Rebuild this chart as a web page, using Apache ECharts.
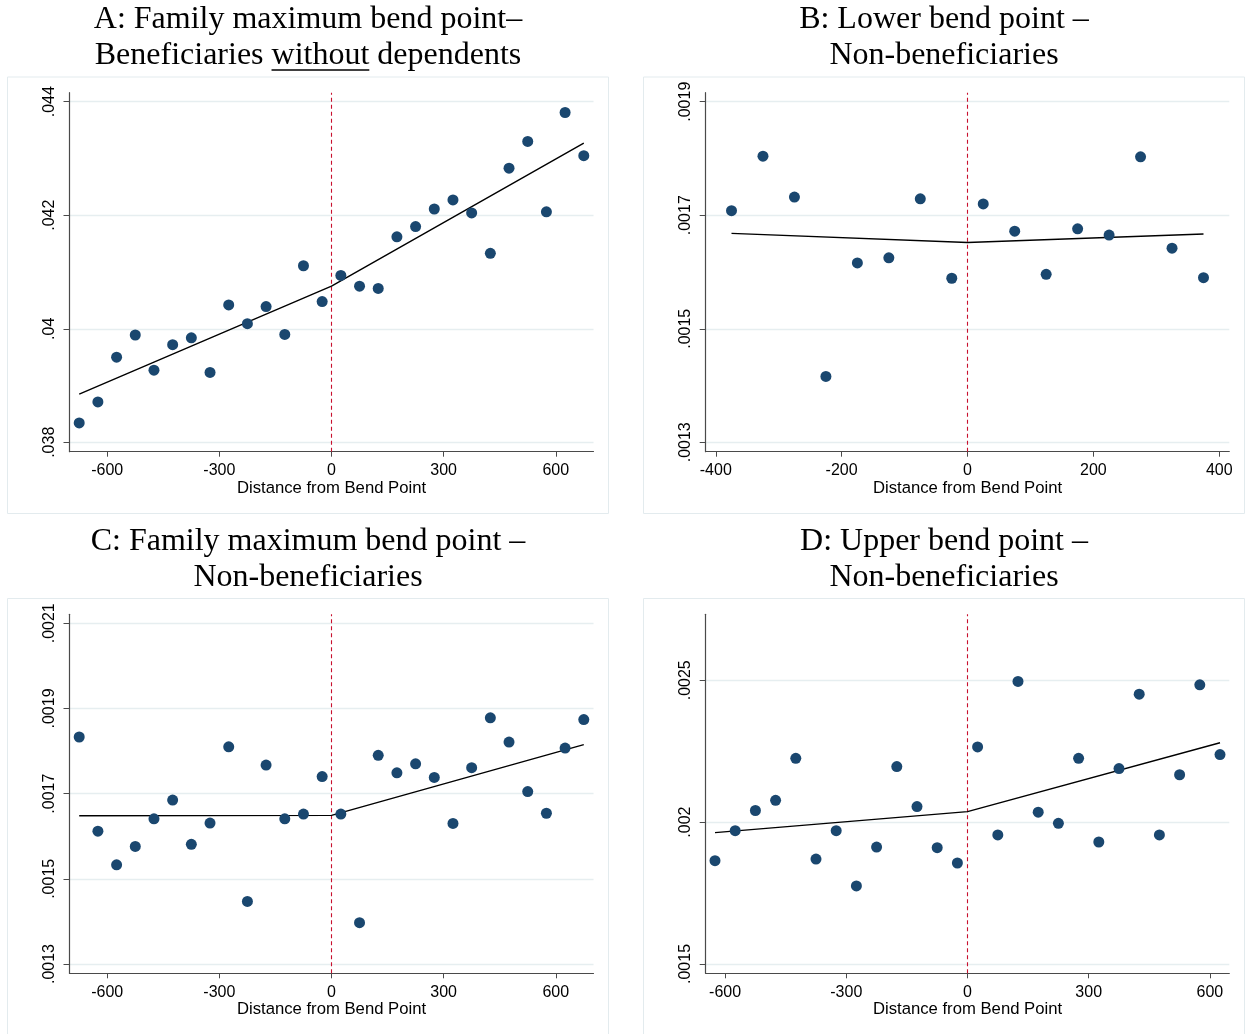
<!DOCTYPE html>
<html>
<head>
<meta charset="utf-8">
<script src="https://cdn.jsdelivr.net/npm/echarts@6/dist/echarts.min.js"></script>
<style>
  html, body { margin: 0; padding: 0; background: #ffffff; }
  #chart { width: 1245px; height: 1034px; }
</style>
</head>
<body>
<div id="chart"></div>
<script>
// Binned distance from the bend point (bin midpoints)
const binsAC = [-675, -625, -575, -525, -475, -425, -375, -325, -275, -225, -175, -125, -75, -25,
                25, 75, 125, 175, 225, 275, 325, 375, 425, 475, 525, 575, 625, 675];
const binsB = [-375, -325, -275, -225, -175, -125, -75, -25, 25, 75, 125, 175, 225, 275, 325, 375];
const binsD = [-625, -575, -525, -475, -425, -375, -325, -275, -225, -175, -125, -75, -25,
               25, 75, 125, 175, 225, 275, 325, 375, 425, 475, 525, 575, 625];

// A: Family maximum bend point, beneficiaries without dependents
const rateA = [0.03834, 0.03871, 0.03950, 0.03989, 0.03927, 0.03972, 0.03984, 0.03923, 0.04042, 0.04009,
               0.04039, 0.03990, 0.04111, 0.04048, 0.04094, 0.04075, 0.04071, 0.04162, 0.04180, 0.04211,
               0.04227, 0.04204, 0.04133, 0.04283, 0.04330, 0.04206, 0.04381, 0.04305];
const fitXA = [-675, 0, 675];
const fitYA = [0.03885, 0.04075, 0.04327];

// B: Lower bend point, non-beneficiaries
const rateB = [0.001708, 0.001804, 0.001732, 0.001416, 0.001616, 0.001625, 0.001729, 0.001589,
               0.001720, 0.001672, 0.001596, 0.001676, 0.001665, 0.001803, 0.001642, 0.001590];
const fitXB = [-375, 0, 375];
const fitYB = [0.001668, 0.001652, 0.001667];

// C: Family maximum bend point, non-beneficiaries
const rateC = [0.001833, 0.001612, 0.001533, 0.001576, 0.001641, 0.001685, 0.001581, 0.001631, 0.001810, 0.001447,
               0.001767, 0.001641, 0.001652, 0.001740, 0.001652, 0.001397, 0.001790, 0.001749, 0.001770, 0.001738,
               0.001630, 0.001761, 0.001878, 0.001821, 0.001705, 0.001654, 0.001807, 0.001874];
const fitXC = [-675, 0, 675];
const fitYC = [0.001648, 0.001649, 0.001815];

// D: Upper bend point, non-beneficiaries
const rateD = [0.001864, 0.001970, 0.002041, 0.002077, 0.002225, 0.001870, 0.001970, 0.001775, 0.001912, 0.002196,
               0.002055, 0.001910, 0.001856, 0.002265, 0.001955, 0.002496, 0.002035, 0.001996, 0.002225, 0.001930,
               0.002189, 0.002451, 0.001955, 0.002167, 0.002484, 0.002238];
const fitXD = [-625, 0, 625];
const fitYD = [0.001963, 0.002037, 0.002280];

// Tick labels
const xTicksAC = [-600, -300, 0, 300, 600];
const xTicksB = [-400, -200, 0, 200, 400];
const xTicksD = [-600, -300, 0, 300, 600];
const yTicksA = [0.038, 0.040, 0.042, 0.044];
const yTicksB = [0.0013, 0.0015, 0.0017, 0.0019];
const yTicksC = [0.0013, 0.0015, 0.0017, 0.0019, 0.0021];
const yTicksD = [0.0015, 0.0020, 0.0025];

const xTitle = 'Distance from Bend Point';
const titles = [
  ['A: Family maximum bend point\u2013', 'Beneficiaries without dependents'],
  ['B: Lower bend point \u2013', 'Non-beneficiaries'],
  ['C: Family maximum bend point \u2013', 'Non-beneficiaries'],
  ['D: Upper bend point \u2013', 'Non-beneficiaries']
];

const SANS = '"Liberation Sans", Arial, sans-serif';
const SERIF = '"Liberation Serif", "Times New Roman", serif';
const DOT = '#1a476f';
const AXIS = '#4a4a4a';
const GRIDLINE = '#e6eef0';
const FRAME = '#e3ebee';
const REF = '#c8102e';

const zip = (xs, ys) => xs.map((x, i) => [x, ys[i]]);
const fmtY = v => String(+(+v).toPrecision(6)).replace(/^(-?)0\./, '$1.');

const panels = [
  { grid: { left: 69.5, top: 92.7, width: 524, height: 359 }, xr: [-701, 701], yr: [0.037834, 0.044159],
    xt: xTicksAC, yt: yTicksA, pts: zip(binsAC, rateA), fit: zip(fitXA, fitYA) },
  { grid: { left: 705.7, top: 92.7, width: 523.6, height: 359 }, xr: [-416, 416], yr: [0.0012834, 0.0019159],
    xt: xTicksB, yt: yTicksB, pts: zip(binsB, rateB), fit: zip(fitXB, fitYB) },
  { grid: { left: 69.5, top: 614.3, width: 524, height: 359 }, xr: [-701, 701], yr: [0.0012782, 0.0021211],
    xt: xTicksAC, yt: yTicksC, pts: zip(binsAC, rateC), fit: zip(fitXC, fitYC) },
  { grid: { left: 705.7, top: 614.3, width: 523.6, height: 359 }, xr: [-648, 648], yr: [0.0014672, 0.0027326],
    xt: xTicksD, yt: yTicksD, pts: zip(binsD, rateD), fit: zip(fitXD, fitYD) }
];

const refLineStyle = { color: REF, type: [4, 3], width: 1.1, opacity: 1 };

const grids = [], xAxes = [], yAxes = [], series = [];
panels.forEach((p, i) => {
  grids.push(Object.assign({ containLabel: false }, p.grid));
  xAxes.push({
    type: 'value', gridIndex: i, min: p.xr[0], max: p.xr[1],
    name: xTitle, nameLocation: 'middle', nameGap: 27,
    nameTextStyle: { fontFamily: SANS, fontSize: 16.7, color: '#000' },
    axisLine: { show: true, onZero: false, lineStyle: { color: AXIS, width: 1.2 } },
    axisTick: { show: true, length: 5, customValues: p.xt, lineStyle: { color: AXIS, width: 1 } },
    axisLabel: { customValues: p.xt, margin: 11, fontFamily: SANS, fontSize: 16, color: '#000' },
    splitLine: { show: false }
  });
  yAxes.push({
    type: 'value', gridIndex: i, min: p.yr[0], max: p.yr[1],
    axisLine: { show: true, onZero: false, lineStyle: { color: AXIS, width: 1.2 } },
    axisTick: { show: true, length: 6, customValues: p.yt, lineStyle: { color: AXIS, width: 1 } },
    axisLabel: { customValues: p.yt, rotate: 90, margin: 12, fontFamily: SANS, fontSize: 16,
                 color: '#000', formatter: fmtY },
    splitLine: { show: true, lineStyle: { color: GRIDLINE, width: 1.3 } }
  });
  series.push({
    type: 'line', xAxisIndex: i, yAxisIndex: i, data: p.fit, showSymbol: false, z: 3,
    color: '#000',
    lineStyle: { color: '#000', width: 1.4 },
    markLine: {
      silent: true, symbol: ['none', 'none'], label: { show: false }, z: 1,
      lineStyle: refLineStyle,
      emphasis: { disabled: true },
      data: [{ xAxis: 0 }]
    }
  });
  series.push({
    type: 'scatter', xAxisIndex: i, yAxisIndex: i, data: p.pts, symbol: 'circle', symbolSize: 11, z: 4,
    itemStyle: { color: DOT, opacity: 1 }
  });
});

// Panel frames and titles
const frames = [[7.5, 77, 601, 436.5], [643.5, 77, 601, 436.5], [7.5, 598.5, 601, 440], [643.5, 598.5, 601, 440]];
const titleCenters = [[308, 20], [944, 20], [308, 542], [944, 542]];
const graphic = [];
frames.forEach(f => graphic.push({
  type: 'rect', shape: { x: f[0], y: f[1], width: f[2], height: f[3] },
  style: { fill: 'none', stroke: FRAME, lineWidth: 1 }, silent: true, z: -1
}));
titles.forEach((t, i) => {
  const [cx, cy] = titleCenters[i];
  t.forEach((line, k) => graphic.push({
    type: 'text', x: cx, y: cy + k * 36, silent: true,
    style: { text: line, font: '32px ' + SERIF, fill: '#000', align: 'center', verticalAlign: 'middle' }
  }));
});

// underline the word "without" in the first panel's subtitle
(function () {
  const ctx = document.createElement('canvas').getContext('2d');
  ctx.font = '32px ' + SERIF;
  const full = titles[0][1];
  const before = 'Beneficiaries ';
  const word = 'without';
  const W = ctx.measureText(full).width;
  const x0 = titleCenters[0][0] - W / 2 + ctx.measureText(before).width;
  const x1 = x0 + ctx.measureText(word).width;
  const uy = titleCenters[0][1] + 36 + 14;
  graphic.push({
    type: 'line', silent: true,
    shape: { x1: x0, y1: uy, x2: x1, y2: uy },
    style: { stroke: '#000', lineWidth: 1.5 }
  });
})();

const chart = echarts.init(document.getElementById('chart'), null, { renderer: 'canvas' });
chart.setOption({
  animation: false,
  backgroundColor: '#ffffff',
  grid: grids,
  xAxis: xAxes,
  yAxis: yAxes,
  series: series,
  graphic: graphic
});
</script>
</body>
</html>
